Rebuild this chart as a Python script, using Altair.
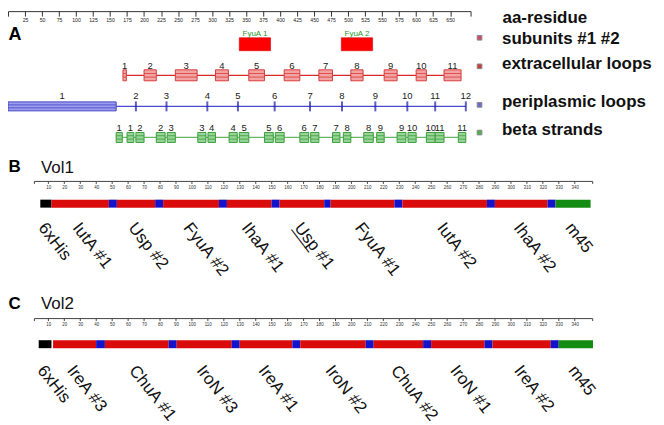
import altair as alt
import pandas as pd

W, H = 650, 416
FONT = "Liberation Sans"

# ---------------- Panel A data (aa-residue coordinates) ----------------
aa_ticks = [0, 25, 50, 75, 100, 125, 150, 175, 200, 225, 250, 275, 300, 325,
            350, 375, 400, 425, 450, 475, 500, 525, 550, 575, 600, 625, 650, 680]

subunit_names = ["FyuA 1", "FyuA 2"]
subunit_start = [340, 490]
subunit_end = [386, 536]

ecl_names = ["1", "2", "3", "4", "5", "6", "7", "8", "9", "10", "11"]
ecl_start = [169, 200, 246, 305, 354, 406, 457, 504, 553, 600, 641]
ecl_end = [174, 218, 278, 324, 377, 429, 477, 522, 572, 615, 666]
ecl_line = [169, 666]

peri_loop1 = [0, 159]
peri_tick_names = ["2", "3", "4", "5", "6", "7", "8", "9", "10", "11", "12"]
peri_tick_pos = [188, 233, 293, 338, 392, 444, 491, 540, 587, 628, 673]
peri_line = [159, 673]

beta_names = ["1", "1", "2", "2", "3", "3", "4", "4", "5", "5", "6", "6",
              "7", "7", "8", "8", "9", "9", "10", "10", "11", "11"]
beta_start = [159, 175, 188, 218, 234, 279, 294, 325, 340, 377, 393, 429,
              445, 477, 493, 523, 542, 572, 588, 615, 628, 662]
beta_end = [168, 185, 200, 231, 246, 291, 305, 337, 354, 390, 406, 442,
            457, 488, 504, 537, 553, 585, 600, 628, 641, 673]
beta_line = [159, 673]

legend_labels = ["subunits #1 #2", "extracellular loops", "periplasmic loops", "beta strands"]

# ---------------- Panels B / C data (construct positions) ----------------
vol_ticks = [1, 10, 20, 30, 40, 50, 60, 70, 80, 90, 100, 110, 120, 130, 140, 150, 160,
             170, 180, 190, 200, 210, 220, 230, 240, 250, 260, 270, 280, 290, 300,
             310, 320, 330, 340, 351]

vol_parts = ["6xHis", "epitope", "linker", "epitope", "linker", "epitope", "linker",
             "epitope", "linker", "epitope", "linker", "epitope", "linker", "epitope",
             "linker", "epitope", "linker", "m45"]

vol1_names = ["6xHis", "IutA #1", "", "Usp #2", "", "FyuA #2", "", "IhaA #1", "",
              "Usp #1", "", "FyuA #1", "", "IutA #2", "", "IhaA #2", "", "m45"]
vol1_start = [5, 12, 48, 53, 77, 82, 117, 122, 150, 155, 183, 187, 227, 232, 285, 290, 323, 328]
vol1_end = [12, 48, 53, 77, 82, 117, 122, 150, 155, 183, 187, 227, 232, 285, 290, 323, 328, 350]

vol2_names = ["6xHis", "IreA #3", "", "ChuA #1", "", "IroN #3", "", "IreA #1", "",
              "IroN #2", "", "ChuA #2", "", "IroN #1", "", "IreA #2", "", "m45"]
vol2_start = [4, 13, 40, 45.5, 85.5, 90.5, 125, 130, 163, 168, 209, 214, 245, 250,
              283.5, 288.5, 325, 330]
vol2_end = [12, 40, 45.5, 85.5, 90.5, 125, 130, 163, 168, 209, 214, 245, 250, 283.5,
            288.5, 325, 330, 351.5]

# ---------------- Panel A ----------------
A_ROWS = ["subunits", "extracellular", "periplasmic", "beta"]
AXIS_A_Y = 2.5
scaleA = alt.Scale(domain=[0, 680], range=[0, 464])
axisA = alt.Axis(
    orient="bottom", offset=AXIS_A_Y - H, values=aa_ticks,
    labelExpr="datum.value == 0 || datum.value == 680 ? '' : datum.label",
    labelFontSize=5.2, labelColor="#222222", labelPadding=1.5,
    labelOverlap=False, labelFlush=False,
    tickSize=5, tickColor="#333333", domainColor="#333333", grid=False,
    title="aa-residue", titleX=495.5, titleY=6.5, titleAlign="left",
    titleBaseline="middle", titleFontSize=17, titleFontWeight="bold", titleColor="#111111",
)


def xA(field):
    return alt.X(f"{field}:Q", scale=scaleA, axis=axisA)


yA = alt.Y("row:N", scale=alt.Scale(type="point", domain=A_ROWS, range=[35.7, 129.2], padding=0),
           axis=None)

MID = "(datum.start + datum.end) / 2"

sub_df = pd.DataFrame({"name": subunit_names, "start": subunit_start, "end": subunit_end,
                       "row": "subunits"})
ecl_df = pd.DataFrame({"name": ecl_names, "start": ecl_start, "end": ecl_end, "row": "extracellular"})
ecl_line_df = pd.DataFrame({"start": [ecl_line[0]], "end": [ecl_line[1]], "row": ["extracellular"]})
peri_box_df = pd.DataFrame({"name": ["1"], "start": [peri_loop1[0]], "end": [peri_loop1[1]],
                            "row": ["periplasmic"]})
peri_tick_df = pd.DataFrame({"name": peri_tick_names, "pos": peri_tick_pos, "row": "periplasmic"})
peri_line_df = pd.DataFrame({"start": [peri_line[0]], "end": [peri_line[1]], "row": ["periplasmic"]})
beta_df = pd.DataFrame({"name": beta_names, "start": beta_start, "end": beta_end, "row": "beta"})
beta_line_df = pd.DataFrame({"start": [beta_line[0]], "end": [beta_line[1]], "row": ["beta"]})

layersA = []

# subunits
layersA.append(alt.Chart(sub_df).mark_bar(size=13, color="#ff0000", stroke="#d40000",
                                           strokeWidth=0.6)
               .encode(x=xA("start"), x2=alt.X2("end"), y=yA))
layersA.append(alt.Chart(sub_df).transform_calculate(mid=MID)
               .mark_text(dy=-10.5, fontSize=8, color="#1f9a1f")
               .encode(x=xA("mid"), y=yA, text="name:N"))

# extracellular loops
layersA.append(alt.Chart(ecl_line_df).mark_rule(color="#d42a2a", strokeWidth=1.2)
               .encode(x=xA("start"), x2=alt.X2("end"), y=yA))
layersA.append(alt.Chart(ecl_df).mark_bar(size=11, fill="#f4a3a3", stroke="#d83c3c", strokeWidth=1)
               .encode(x=xA("start"), x2=alt.X2("end"), y=yA))
for off in (-1.8, 1.8):
    layersA.append(alt.Chart(ecl_df).mark_rule(yOffset=off, color="#d83c3c", strokeWidth=0.8)
                   .encode(x=xA("start"), x2=alt.X2("end"), y=yA))
layersA.append(alt.Chart(ecl_df).transform_calculate(mid=MID)
               .mark_text(dy=-9.5, fontSize=9.5, color="#222222")
               .encode(x=xA("mid"), y=yA, text="name:N"))

# periplasmic loops
layersA.append(alt.Chart(peri_line_df).mark_rule(color="#4848d0", strokeWidth=1.1)
               .encode(x=xA("start"), x2=alt.X2("end"), y=yA))
layersA.append(alt.Chart(peri_box_df).mark_bar(size=9, fill="#9c9cec", stroke="#4444c8", strokeWidth=1)
               .encode(x=xA("start"), x2=alt.X2("end"), y=yA))
for off in (-1.5, 1.5):
    layersA.append(alt.Chart(peri_box_df).mark_rule(yOffset=off, color="#4444c8", strokeWidth=0.8)
                   .encode(x=xA("start"), x2=alt.X2("end"), y=yA))
layersA.append(alt.Chart(peri_tick_df).mark_tick(thickness=2, size=10, color="#1a1aa6")
               .encode(x=xA("pos"), y=yA))
layersA.append(alt.Chart(peri_box_df).transform_calculate(mid=MID)
               .mark_text(dy=-10, fontSize=9.5, color="#222222")
               .encode(x=xA("mid"), y=yA, text="name:N"))
layersA.append(alt.Chart(peri_tick_df).mark_text(dy=-10, fontSize=9.5, color="#222222")
               .encode(x=xA("pos"), y=yA, text="name:N"))

# beta strands
layersA.append(alt.Chart(beta_line_df).mark_rule(color="#66b866", strokeWidth=1.2)
               .encode(x=xA("start"), x2=alt.X2("end"), y=yA))
layersA.append(alt.Chart(beta_df).mark_bar(size=10, fill="#98d498", stroke="#3c9e3c", strokeWidth=1)
               .encode(x=xA("start"), x2=alt.X2("end"), y=yA))
for off in (-1.7, 1.7):
    layersA.append(alt.Chart(beta_df).mark_rule(yOffset=off, color="#3c9e3c", strokeWidth=0.8)
                   .encode(x=xA("start"), x2=alt.X2("end"), y=yA))
layersA.append(alt.Chart(beta_df).transform_calculate(mid=MID)
               .mark_text(dy=-9.5, fontSize=9.5, color="#222222")
               .encode(x=xA("mid"), y=yA, text="name:N"))

# legend (markers + bold labels)
marker_fill = ["#cc4a6a", "#c83c3c", "#6a6ad0", "#4caf4c"]
marker_off = [-6.5, -9.0, -1.5, -4.9]
text_off = [-5.5, -11.5, -4.4, -7.9]
for row, lab, fc, mo, to in zip(A_ROWS, legend_labels, marker_fill, marker_off, text_off):
    ldf = pd.DataFrame({"row": [row], "label": [lab]})
    layersA.append(alt.Chart(ldf).mark_square(size=22, fill=fc, stroke="#8a8a8a", strokeWidth=1,
                                              opacity=1, yOffset=mo)
                   .encode(x=alt.value(473), y=yA))
    layersA.append(alt.Chart(ldf).mark_text(align="left", baseline="middle", fontSize=17,
                                            fontWeight="bold", color="#111111", dy=to)
                   .encode(x=alt.value(495.5), y=yA, text="label:N"))

layersA.append(alt.Chart(pd.DataFrame({"letter": ["A"]}))
               .mark_text(align="left", baseline="middle", fontSize=18, fontWeight="bold",
                          color="#000000")
               .encode(x=alt.value(0.5), y=alt.value(26), text="letter:N"))

panelA = alt.layer(*layersA)

# ---------------- Panels B and C ----------------
part_scale = alt.Scale(domain=["6xHis", "epitope", "linker", "m45"],
                       range=["#000000", "#da0b0b", "#1313cc", "#148c14"])


def vol_panel(name, starts, ends, names, bar_y, axis_y, title_y, label_off, letter, letter_y,
              underline=None):
    dfv = pd.DataFrame({"start": starts, "end": ends, "name": names, "part": vol_parts,
                        "row": name})
    sx = alt.Scale(domain=[1, 351], range=[26, 586])
    ax = alt.Axis(
        orient="bottom", offset=axis_y - H, values=vol_ticks,
        labelExpr="datum.value == 1 || datum.value == 351 ? '' : datum.label",
        labelFontSize=4.5, labelColor="#333333", labelPadding=1,
        labelOverlap=False, labelFlush=False,
        tickSize=2.5, tickColor="#444444", domainColor="#444444", grid=False,
        title=name, titleX=32.5, titleY=title_y, titleAlign="left", titleBaseline="middle",
        titleFontSize=17, titleFontWeight="normal", titleColor="#111111",
    )

    def xv(field):
        return alt.X(f"{field}:Q", scale=sx, axis=ax)

    yv = alt.Y("row:N", scale=alt.Scale(type="point", domain=[name], range=[bar_y, bar_y],
                                        padding=0), axis=None)
    text_style = dict(angle=52, align="left", baseline="top", fontSize=17, color="#111111",
                      xOffset=2, yOffset=label_off)
    layers = [
        alt.Chart(dfv).mark_bar(size=8)
        .encode(x=xv("start"), x2=alt.X2("end"), y=yv,
                color=alt.Color("part:N", scale=part_scale, legend=None)),
        alt.Chart(dfv).transform_filter("datum.name != ''").transform_calculate(mid=MID)
        .mark_text(**text_style)
        .encode(x=xv("mid"), y=yv, text="name:N"),
    ]
    if underline:
        layers.append(
            alt.Chart(dfv).transform_filter(f"datum.name == '{underline}'")
            .transform_calculate(mid=MID, ul="'___'")
            .mark_text(**text_style)
            .encode(x=xv("mid"), y=yv, text="ul:N"))
    layers.append(
        alt.Chart(pd.DataFrame({"letter": [letter]}))
        .mark_text(align="left", baseline="middle", fontSize=17, fontWeight="bold",
                   color="#000000")
        .encode(x=alt.value(0.5), y=alt.value(letter_y), text="letter:N"))
    return alt.layer(*layers)


panelB = vol_panel("Vol1", vol1_start, vol1_end, vol1_names, bar_y=195.6, axis_y=172.8,
                   title_y=-13.4, label_off=16.5, letter="B", letter_y=158.4, underline="Usp #1")
panelC = vol_panel("Vol2", vol2_start, vol2_end, vol2_names, bar_y=336.6, axis_y=310.4,
                   title_y=-14.4, label_off=18.5, letter="C", letter_y=296)

chart = (
    alt.layer(panelA, panelB, panelC)
    .resolve_scale(x="independent", y="independent")
    .properties(width=W, height=H, autosize=alt.AutoSizeParams(type="none"), padding=0)
    .configure(font=FONT)
    .configure_view(strokeOpacity=0)
)

chart.save("out.html", embed_options={"renderer": "svg", "actions": False})
